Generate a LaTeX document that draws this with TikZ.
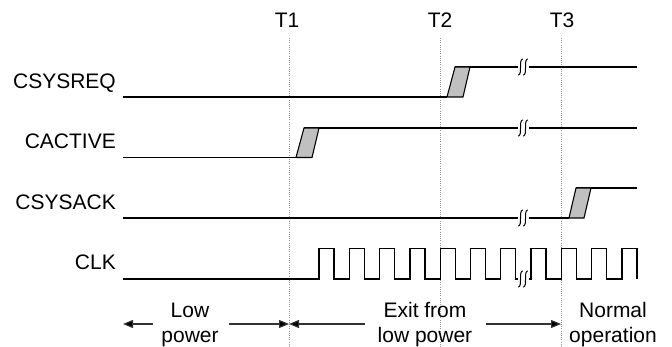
\documentclass[tikz,border=0pt]{standalone}
\usepackage{fontspec}
\setmainfont{Liberation Sans}
\usetikzlibrary{arrows.meta}
\definecolor{edgefill}{RGB}{192,192,192}
\definecolor{dotgray}{RGB}{150,150,150}
\definecolor{spangray}{RGB}{50,50,50}
\tikzset{
  sig/.style={line width=1.3pt, line cap=butt, line join=miter},
  edgebox/.style={line width=1.1pt, fill=edgefill, draw=black, line join=miter},
  timeline/.style={draw=dotgray, line width=0.9pt, dash pattern=on 0.9pt off 1.3pt},
  lbl/.style={font=\fontsize{21}{25}\selectfont, inner sep=0pt},
  spanarrow/.style={draw=spangray, line width=1.1pt, -{Triangle[length=10pt,width=8pt,fill=black]}},
  brkline/.style={line width=1.0pt, line cap=round}
}
\newcommand{\sigbreak}[2]{%
  \fill[white] (#1-5.5,#2-2.5) rectangle (#1+5.5,#2+2.5);
  \draw[brkline] (#1-0.5,#2-8) .. controls (#1-4.5,#2-7) and (#1-0.5,#2+7) .. (#1-4.5,#2+8);
  \draw[brkline] (#1+4.5,#2-8) .. controls (#1+0.5,#2-7) and (#1+4.5,#2+7) .. (#1+0.5,#2+8);
}
\begin{document}
\begin{tikzpicture}[x=1pt,y=-1pt]
\useasboundingbox (0,0) rectangle (672,347);

% time markers
\node[lbl, anchor=base] (t1) at (287,28) {T1};
\node[lbl, anchor=base] (t2) at (440,28) {T2};
\node[lbl, anchor=base] (t3) at (562,28) {T3};
\coordinate (t1top) at (289,38); \coordinate (t1bot) at (289,347);
\coordinate (t2top) at (440,38); \coordinate (t2bot) at (440,347);
\coordinate (t3top) at (561,38); \coordinate (t3bot) at (561,347);
\draw[timeline] (t1top) -- (t1bot);
\draw[timeline] (t2top) -- (t2bot);
\draw[timeline] (t3top) -- (t3bot);

% signal names
\node[lbl, anchor=base east] (csysreq) at (116,89) {CSYSREQ};
\node[lbl, anchor=base east] (cactive) at (116,149) {CACTIVE};
\node[lbl, anchor=base east] (csysack) at (116,210) {CSYSACK};
\node[lbl, anchor=base east] (clk) at (116,270) {CLK};

% CSYSREQ
\draw[sig] (123,97) -- (447,97);
\draw[sig] (455,67) -- (637,67);
\draw[edgebox] (447,97) -- (463,97) -- (470,67) -- (455,67) -- cycle;
\sigbreak{523}{67}

% CACTIVE
\draw[sig] (123,157.5) -- (296,157.5);
\draw[sig] (304,128) -- (637,128);
\draw[edgebox] (296,157.5) -- (312,157.5) -- (319,128) -- (304,128) -- cycle;
\sigbreak{523}{128}

% CSYSACK
\draw[sig] (123,218) -- (569,218);
\draw[sig] (576,188) -- (637,188);
\draw[edgebox] (569,218) -- (584,218) -- (591,188) -- (576,188) -- cycle;
\sigbreak{523}{218}

% CLK
\draw[sig] (123,279) foreach \k in {0,...,10} {
  -- ({319+30.3*\k},279) -- ++(0,-30.5) -- ++(15,0) -- ++(0,30.5) };
\sigbreak{523}{279}

% phases
\node[lbl, align=center] (lowp) at (190,325) {Low\\power};
\node[lbl, align=center] (exitp) at (425,325) {Exit from\\low power};
\node[lbl, align=center] (normp) at (613,325) {Normal\\operation};
\coordinate (a1) at (123,324); \coordinate (a1s) at (153,324);
\coordinate (a2s) at (229,324); \coordinate (a2) at (289,324);
\coordinate (a3s) at (365,324); \coordinate (a4s) at (486,324);
\coordinate (a4) at (561,324);
\draw[spanarrow] (a1s) -- (a1);
\draw[spanarrow] (a2s) -- (a2);
\draw[spanarrow] (a3s) -- (a2);
\draw[spanarrow] (a4s) -- (a4);
\end{tikzpicture}
\end{document}
